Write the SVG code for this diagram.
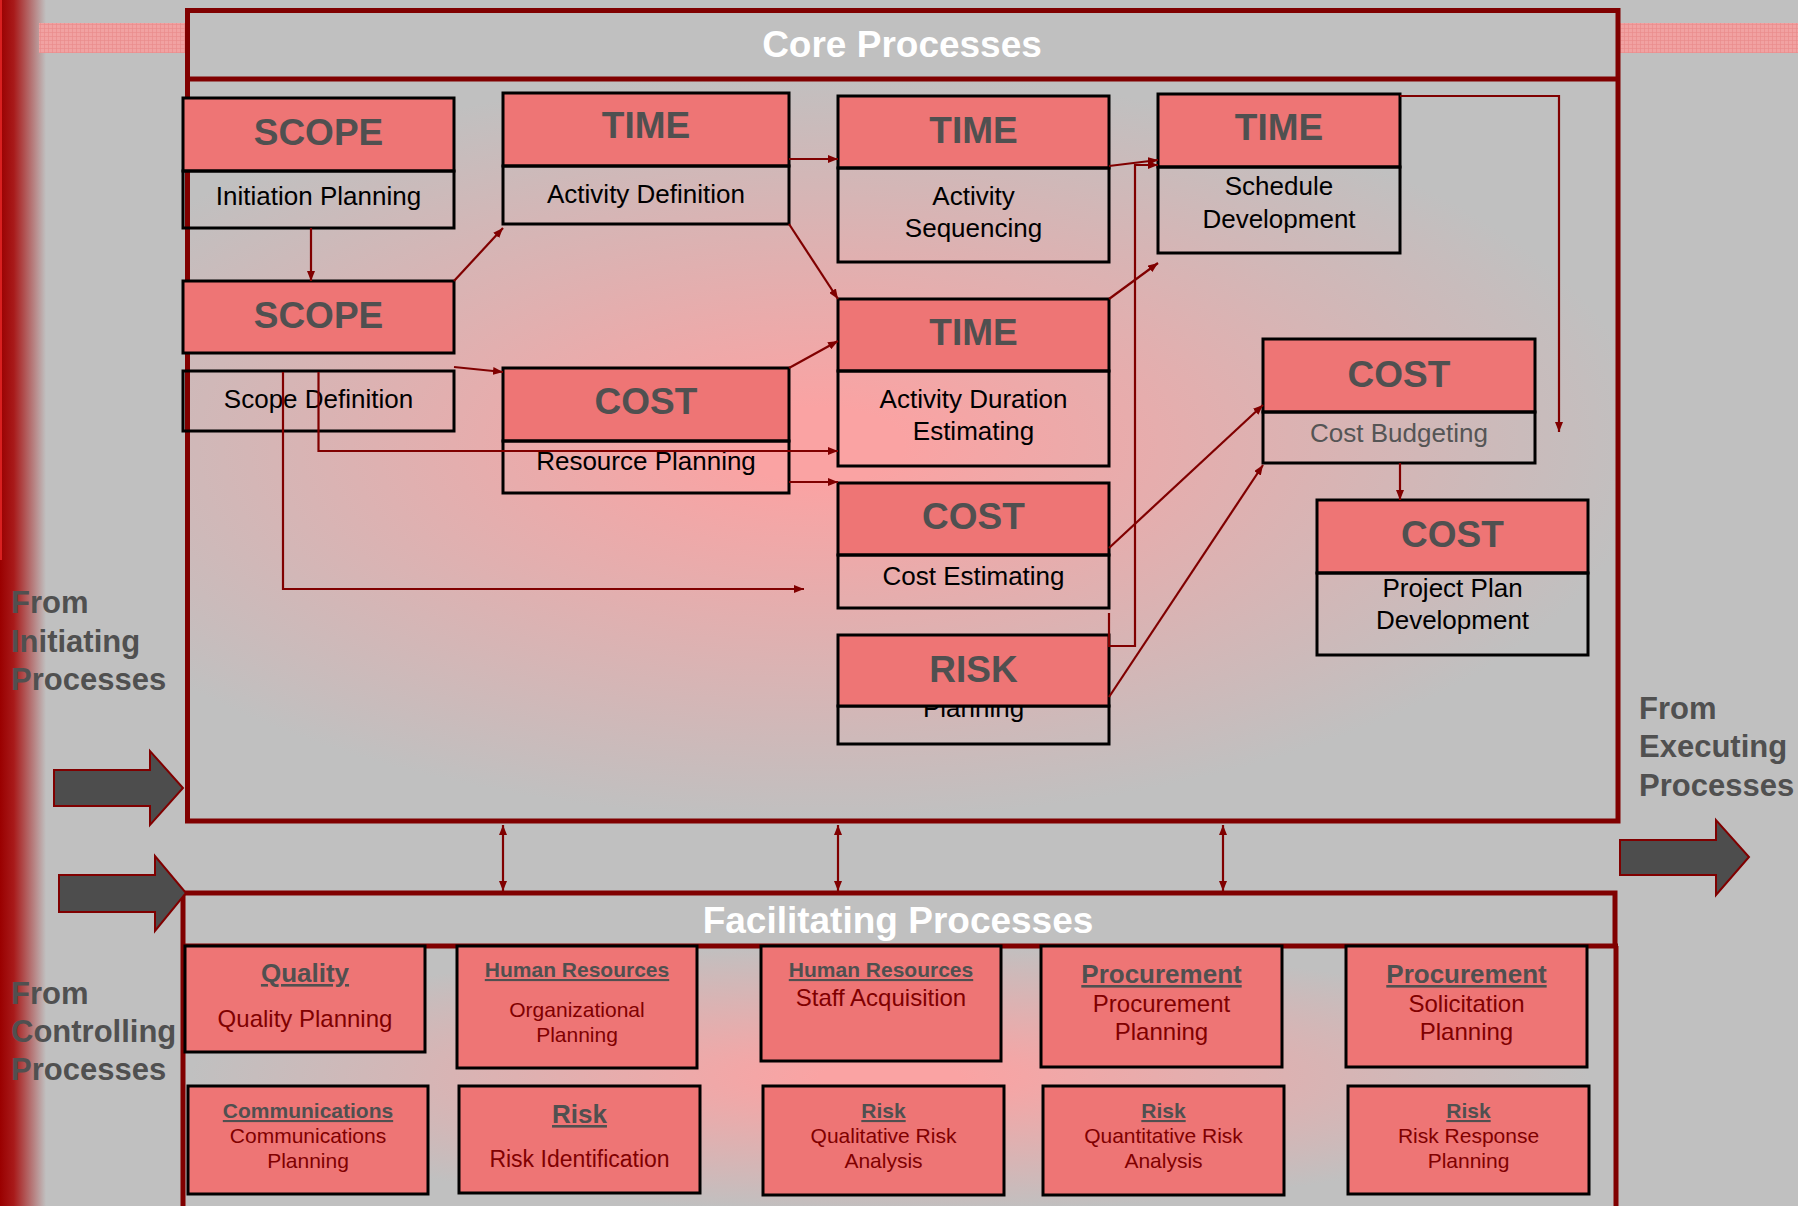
<svg xmlns="http://www.w3.org/2000/svg" width="1817" height="1206" viewBox="0 0 1817 1206">
  <defs>
    <style>
      .hdr{fill:#ee7575;stroke:#000;stroke-width:3}
      .body{fill:none;stroke:#000;stroke-width:3}
      .ht{font-family:"Liberation Sans",Arial,sans-serif;font-weight:bold;font-size:37px;fill:#505050;text-anchor:middle}
      .bt{font-family:"Liberation Sans",Arial,sans-serif;font-size:26px;fill:#000;text-anchor:middle}
      .gray{fill:#555}
      .fbox{fill:#ee7575;stroke:#000;stroke-width:3}
      .ft{font-family:"Liberation Sans",Arial,sans-serif;font-weight:bold;font-size:21px;fill:#505050;text-anchor:middle;text-decoration:underline}
      .ftl{font-size:26px}
      .fd{font-family:"Liberation Sans",Arial,sans-serif;font-size:21px;fill:#800000;text-anchor:middle}
      .fdl{font-size:24px}
      .conn{fill:none;stroke:#800000;stroke-width:2.2;marker-end:url(#ah)}
      .both{marker-start:url(#ah)}
      .side{font-family:"Liberation Sans",Arial,sans-serif;font-weight:bold;font-size:31px;fill:#505050}
      .title{font-family:"Liberation Sans",Arial,sans-serif;font-weight:bold;font-size:37px;fill:#fff;text-anchor:middle}
      .big{fill:#4d4d4d;stroke:#800000;stroke-width:2}
      .frame{fill:none;stroke:#800000;stroke-width:5}
    </style>
    <linearGradient id="edge" x1="0" y1="0" x2="1" y2="0">
      <stop offset="0" stop-color="#9a0000"/>
      <stop offset="0.3" stop-color="#a81a1a"/>
      <stop offset="1" stop-color="#c0c0c0"/>
    </linearGradient>
    <radialGradient id="coreGlow" gradientUnits="userSpaceOnUse" cx="0" cy="0" r="1" gradientTransform="translate(820 445) scale(830 375)">
      <stop offset="0" stop-color="#faa3a3"/>
      <stop offset="0.1" stop-color="#faa3a3"/>
      <stop offset="1" stop-color="#c0c0c0"/>
    </radialGradient>
    <radialGradient id="facGlow" gradientUnits="userSpaceOnUse" cx="0" cy="0" r="1" gradientTransform="translate(890 1077) scale(700 135)">
      <stop offset="0" stop-color="#faa3a3"/>
      <stop offset="0.1" stop-color="#faa3a3"/>
      <stop offset="1" stop-color="#c0c0c0"/>
    </radialGradient>
    <pattern id="mesh" width="4" height="4" patternUnits="userSpaceOnUse">
      <rect width="4" height="4" fill="#f1a2a2"/>
      <path d="M0 0.5H4M0.5 0V4" stroke="#ea8c8c" stroke-width="0.7"/>
    </pattern>
    <marker id="ah" viewBox="0 0 10 8" refX="10" refY="4" markerWidth="10" markerHeight="8" markerUnits="userSpaceOnUse" orient="auto-start-reverse">
      <path d="M0,0 L10,4 L0,8 z" fill="#800000"/>
    </marker>
  </defs>

  <!-- backdrop -->
  <rect width="1817" height="1206" fill="#fff"/>
  <rect width="1798" height="1206" fill="#c0c0c0"/>
  <rect x="0" y="0" width="46" height="1206" fill="url(#edge)"/>
  <rect x="0" y="0" width="2" height="560" fill="#d82020"/>
  <rect x="39" y="23" width="1759" height="30" fill="url(#mesh)"/>

  <!-- core processes frame -->
  <g id="core-frame">
    <rect x="187.5" y="10.5" width="1430.5" height="68.5" fill="#c0c0c0"/>
    <rect x="187.5" y="79" width="1430.5" height="742" fill="url(#coreGlow)"/>
    <rect class="frame" x="187.5" y="10.5" width="1430.5" height="810.5"/>
    <line x1="187.5" y1="79" x2="1618" y2="79" stroke="#800000" stroke-width="5"/>
    <text class="title" x="902" y="57">Core Processes</text>
  </g>

  <!-- facilitating processes frame -->
  <g id="facilitating-frame">
    <rect x="183" y="893" width="1433" height="53" fill="#c0c0c0"/>
    <rect x="183" y="946" width="1435" height="270" fill="url(#facGlow)"/>
    <path class="frame" d="M183,1215 V893 H1615 V946 M1616,946 V1215"/>
    <line x1="183" y1="946" x2="1618" y2="946" stroke="#800000" stroke-width="5"/>
    <text class="title" x="898" y="933">Facilitating Processes</text>
  </g>

  <!-- side labels and flow arrows -->
  <g id="from-initiating">
    <polygon class="big" points="54,770 150,770 150,751 183,788 150,825 150,806 54,806"/>
    <text class="side" x="11" y="613">From</text>
    <text class="side" x="11" y="652">Initiating</text>
    <text class="side" x="11" y="690">Processes</text>
  </g>
  <g id="from-controlling">
    <polygon class="big" points="59,875 155,875 155,856 186,893 155,931 155,912 59,912"/>
    <text class="side" x="11" y="1004">From</text>
    <text class="side" x="11" y="1042">Controlling</text>
    <text class="side" x="11" y="1080">Processes</text>
  </g>
  <g id="from-executing">
    <polygon class="big" points="1620,840 1716,840 1716,820 1749,857 1716,895 1716,875 1620,875"/>
    <text class="side" x="1639" y="719">From</text>
    <text class="side" x="1639" y="757">Executing</text>
    <text class="side" x="1639" y="796">Processes</text>
  </g>

  <!-- core process nodes -->
  <g id="scope-initiation">
    <rect class="hdr" x="183" y="98" width="271" height="73"/>
    <rect class="body" x="183" y="171" width="271" height="57"/>
    <text class="ht" x="318.5" y="145">SCOPE</text>
    <text class="bt" x="318.5" y="205">Initiation Planning</text>
  </g>
  <g id="scope-definition">
    <rect class="hdr" x="183" y="281" width="271" height="72"/>
    <rect class="body" x="183" y="371" width="271" height="60"/>
    <text class="ht" x="318.5" y="328">SCOPE</text>
    <text class="bt" x="318.5" y="408">Scope Definition</text>
  </g>
  <g id="time-activity-definition">
    <rect class="hdr" x="503" y="93" width="286" height="73"/>
    <rect class="body" x="503" y="166" width="286" height="58"/>
    <text class="ht" x="646" y="138">TIME</text>
    <text class="bt" x="646" y="203">Activity Definition</text>
  </g>
  <g id="time-activity-sequencing">
    <rect class="hdr" x="838" y="96" width="271" height="72"/>
    <rect class="body" x="838" y="168" width="271" height="94"/>
    <text class="ht" x="973.5" y="143">TIME</text>
    <text class="bt" x="973.5" y="205">Activity</text>
    <text class="bt" x="973.5" y="237">Sequencing</text>
  </g>
  <g id="time-schedule-development">
    <rect class="hdr" x="1158" y="94" width="242" height="73"/>
    <rect class="body" x="1158" y="167" width="242" height="86"/>
    <text class="ht" x="1279" y="140">TIME</text>
    <text class="bt" x="1279" y="195">Schedule</text>
    <text class="bt" x="1279" y="228">Development</text>
  </g>
  <g id="time-duration-estimating">
    <rect class="hdr" x="838" y="299" width="271" height="72"/>
    <rect class="body" x="838" y="371" width="271" height="95"/>
    <text class="ht" x="973.5" y="345">TIME</text>
    <text class="bt" x="973.5" y="408">Activity Duration</text>
    <text class="bt" x="973.5" y="440">Estimating</text>
  </g>
  <g id="cost-resource-planning">
    <rect class="hdr" x="503" y="368" width="286" height="73"/>
    <rect class="body" x="503" y="441" width="286" height="52"/>
    <text class="ht" x="646" y="414">COST</text>
    <text class="bt" x="646" y="470">Resource Planning</text>
  </g>
  <g id="cost-estimating">
    <rect class="hdr" x="838" y="483" width="271" height="72"/>
    <rect class="body" x="838" y="555" width="271" height="53"/>
    <text class="ht" x="973.5" y="529">COST</text>
    <text class="bt" x="973.5" y="585">Cost Estimating</text>
  </g>
  <g id="risk-planning">
    <rect class="body" x="838" y="706" width="271" height="38"/>
    <text class="bt" x="973.5" y="717">Planning</text>
    <rect class="hdr" x="838" y="635" width="271" height="71"/>
    <text class="ht" x="973.5" y="682">RISK</text>
  </g>
  <g id="cost-budgeting">
    <rect class="hdr" x="1263" y="339" width="272" height="73"/>
    <rect class="body" x="1263" y="412" width="272" height="51"/>
    <text class="ht" x="1399" y="387">COST</text>
    <text class="bt gray" x="1399" y="442">Cost Budgeting</text>
  </g>
  <g id="cost-project-plan">
    <rect class="hdr" x="1317" y="500" width="271" height="73"/>
    <rect class="body" x="1317" y="573" width="271" height="82"/>
    <text class="ht" x="1452.5" y="547">COST</text>
    <text class="bt" x="1452.5" y="597">Project Plan</text>
    <text class="bt" x="1452.5" y="629">Development</text>
  </g>

  <!-- facilitating process nodes -->
  <g id="quality-planning">
    <rect class="fbox" x="185" y="946" width="240" height="106"/>
    <text class="ft ftl" x="305" y="982">Quality</text>
    <text class="fd fdl" x="305" y="1027">Quality Planning</text>
  </g>
  <g id="organizational-planning">
    <rect class="fbox" x="457" y="946" width="240" height="122"/>
    <text class="ft" x="577" y="977">Human Resources</text>
    <text class="fd" x="577" y="1017">Organizational</text>
    <text class="fd" x="577" y="1042">Planning</text>
  </g>
  <g id="staff-acquisition">
    <rect class="fbox" x="761" y="946" width="240" height="115"/>
    <text class="ft" x="881" y="977">Human Resources</text>
    <text class="fd fdl" x="881" y="1006">Staff Acquisition</text>
  </g>
  <g id="procurement-planning">
    <rect class="fbox" x="1041" y="946" width="241" height="121"/>
    <text class="ft ftl" x="1161.5" y="983">Procurement</text>
    <text class="fd fdl" x="1161.5" y="1012">Procurement</text>
    <text class="fd fdl" x="1161.5" y="1040">Planning</text>
  </g>
  <g id="solicitation-planning">
    <rect class="fbox" x="1346" y="946" width="241" height="121"/>
    <text class="ft ftl" x="1466.5" y="983">Procurement</text>
    <text class="fd fdl" x="1466.5" y="1012">Solicitation</text>
    <text class="fd fdl" x="1466.5" y="1040">Planning</text>
  </g>
  <g id="communications-planning">
    <rect class="fbox" x="188" y="1086" width="240" height="108"/>
    <text class="ft" x="308" y="1118">Communications</text>
    <text class="fd" x="308" y="1143">Communications</text>
    <text class="fd" x="308" y="1168">Planning</text>
  </g>
  <g id="risk-identification">
    <rect class="fbox" x="459" y="1086" width="241" height="107"/>
    <text class="ft ftl" x="579.5" y="1123">Risk</text>
    <text class="fd" x="579.5" y="1167" style="font-size:23px">Risk Identification</text>
  </g>
  <g id="qualitative-risk">
    <rect class="fbox" x="763" y="1086" width="241" height="109"/>
    <text class="ft" x="883.5" y="1118">Risk</text>
    <text class="fd" x="883.5" y="1143">Qualitative Risk</text>
    <text class="fd" x="883.5" y="1168">Analysis</text>
  </g>
  <g id="quantitative-risk">
    <rect class="fbox" x="1043" y="1086" width="241" height="109"/>
    <text class="ft" x="1163.5" y="1118">Risk</text>
    <text class="fd" x="1163.5" y="1143">Quantitative Risk</text>
    <text class="fd" x="1163.5" y="1168">Analysis</text>
  </g>
  <g id="risk-response">
    <rect class="fbox" x="1348" y="1086" width="241" height="108"/>
    <text class="ft" x="1468.5" y="1118">Risk</text>
    <text class="fd" x="1468.5" y="1143">Risk Response</text>
    <text class="fd" x="1468.5" y="1168">Planning</text>
  </g>

  <!-- connectors -->
  <g id="connectors">
    <path class="conn" d="M311,228 L311,281"/>
    <path class="conn" d="M454,281 L503,228"/>
    <path class="conn" d="M454,367 L503,372"/>
    <path class="conn" d="M318.5,372 L318.5,451 L838,451"/>
    <path class="conn" d="M283,372 L283,589 L804,589"/>
    <path class="conn" d="M789,482 L838,482"/>
    <path class="conn" d="M789,368 L838,341"/>
    <path class="conn" d="M789,159 L838,159"/>
    <path class="conn" d="M789,224 L838,299"/>
    <path class="conn" d="M1109,166 L1158,160"/>
    <path class="conn" d="M1109,613 L1109,646 L1135,646 L1135,165 L1158,165"/>
    <path class="conn" d="M1109,299 L1158,263"/>
    <path class="conn" d="M1400,96 L1559,96 L1559,432"/>
    <path class="conn" d="M1109,548 L1263,405"/>
    <path class="conn" d="M1109,697 L1263,465"/>
    <path class="conn" d="M1400,463 L1400,500"/>
    <path class="conn both" d="M503,825 L503,891"/>
    <path class="conn both" d="M838,825 L838,891"/>
    <path class="conn both" d="M1223,825 L1223,891"/>
  </g>
</svg>
